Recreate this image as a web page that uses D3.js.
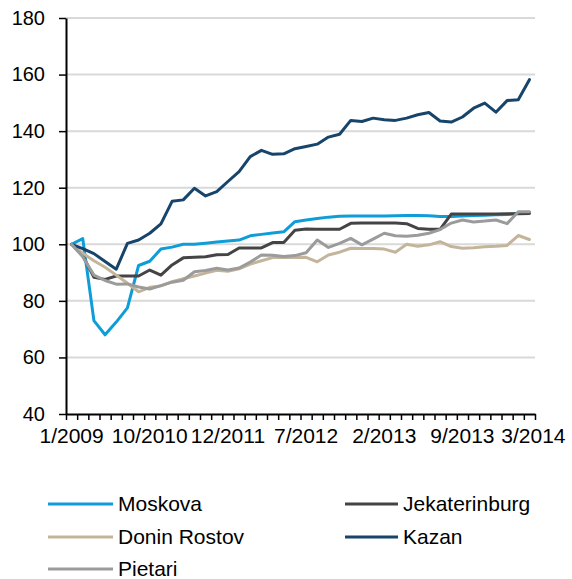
<!DOCTYPE html>
<html>
<head>
<meta charset="utf-8">
<title>Asuntojen hintaindeksi</title>
<script src="https://d3js.org/d3.v7.min.js"></script>
<style>
  body { margin: 0; background: #fff; }
  text { font-family: "Liberation Sans", Arial, sans-serif; fill: #000; }
</style>
</head>
<body>
<div id="chart"></div>
<script>
// categories: quarterly 2009-2010, bimonthly 2011, monthly from 2012
var categories = ["1/2009","4/2009","7/2009","10/2009","1/2010","4/2010","7/2010",
  "10/2010","12/2010","2/2011","4/2011","6/2011","8/2011","10/2011",
  "12/2011","1/2012","2/2012","3/2012","4/2012","5/2012","6/2012",
  "7/2012","8/2012","9/2012","10/2012","11/2012","12/2012","1/2013",
  "2/2013","3/2013","4/2013","5/2013","6/2013","7/2013","8/2013",
  "9/2013","10/2013","11/2013","12/2013","1/2014","2/2014","3/2014"];
var shownLabels = ["1/2009","10/2010","12/2011","7/2012","2/2013","9/2013","3/2014"];
var yTicks = [40, 60, 80, 100, 120, 140, 160, 180];

var moskova = [100,102,73,68,72.5,77.5,92.5,94,98.3,99,100,100,100.4,100.8,101.2,101.5,103,103.5,104,104.4,108,108.6,
  109.1,109.6,109.9,110,110,110,110,110.1,110.2,110.2,110.1,109.8,109.8,110,110.2,110.3,110.4,110.5,111,111.2];
var jekaterinburg = [100,96,88.3,87.6,88.8,88.8,88.8,90.9,89.1,92.7,95.2,95.4,95.6,96.3,96.4,98.7,98.7,98.7,100.6,100.6,105,105.4,
  105.3,105.3,105.3,107.4,107.5,107.5,107.5,107.5,107.3,105.6,105.3,105.3,110.7,110.7,110.7,110.7,110.7,110.8,110.8,110.9];
var doninRostov = [100,96.8,94.2,91.9,89.1,86.2,83.2,84.8,85.3,86.8,87.8,88.8,89.8,90.8,90.5,91.3,93,94.2,95.3,95.3,95.3,95.4,
  93.8,96.2,97.2,98.6,98.5,98.5,98.3,97.2,100,99.3,99.8,100.9,99.2,98.6,98.8,99.1,99.3,99.6,103.1,101.7];
var kazan = [100,98.5,96.7,93.9,91.2,100.3,101.5,103.9,107.2,115.2,115.7,119.8,117.1,118.6,122.2,125.7,131,133.2,131.8,132,133.8,134.6,
  135.4,137.9,138.9,143.8,143.4,144.6,144,143.8,144.6,145.8,146.6,143.6,143.2,145,148.1,149.9,146.7,150.8,151.1,158.2];
var pietari = [100,95.6,89.1,87.2,85.9,86,84.9,84.2,85.4,86.6,87.3,90.3,90.7,91.5,90.9,91.6,93.7,96.2,96.1,95.7,96,97,
  101.5,98.9,100.3,102.1,99.8,101.8,103.9,103,102.8,103.2,103.9,105.2,107.5,108.6,107.9,108.2,108.6,107.3,111.5,111.5];

var seriesNames = ["Moskova", "Jekaterinburg", "Donin Rostov", "Kazan", "Pietari"];
var seriesValues = [moskova, jekaterinburg, doninRostov, kazan, pietari];
var seriesColors = ["#0f9dd8", "#444446", "#c4b49a", "#17446b", "#9b9b9b"];

var width = 572, height = 579;
var margin = { top: 18, right: 37, bottom: 165, left: 66 };

var svg = d3.select("#chart").append("svg")
    .attr("width", width)
    .attr("height", height);

var x = d3.scaleBand()
    .domain(d3.range(categories.length))
    .range([margin.left, width - margin.right]);
var xEdge = d3.scaleLinear()
    .domain([0, categories.length])
    .range([margin.left, width - margin.right]);
var y = d3.scaleLinear()
    .domain([40, 180])
    .range([height - margin.bottom, margin.top]);

// gridlines
svg.append("g")
    .selectAll("line")
    .data(yTicks.slice(1))
    .join("line")
    .attr("x1", margin.left)
    .attr("x2", width - margin.right)
    .attr("y1", d => y(d))
    .attr("y2", d => y(d))
    .attr("stroke", "#d9d9d9")
    .attr("stroke-width", 2);

// y axis
var yAxis = svg.append("g")
    .attr("transform", `translate(${margin.left},0)`)
    .call(d3.axisLeft(y).tickValues(yTicks).tickSize(7).tickSizeOuter(0).tickPadding(14));
yAxis.select(".domain").attr("stroke", "#000").attr("stroke-width", 2);
yAxis.selectAll(".tick line").attr("stroke", "#000").attr("stroke-width", 1.5);
yAxis.selectAll("text").style("font-size", "20px").attr("font-family", null);

// lines
var line = d3.line()
    .x((d, i) => x(i) + x.bandwidth() / 2)
    .y(d => y(d));

svg.append("g")
    .selectAll("path")
    .data(seriesValues)
    .join("path")
    .attr("d", d => line(d))
    .attr("fill", "none")
    .attr("stroke", (d, i) => seriesColors[i])
    .attr("stroke-width", 3)
    .attr("stroke-linejoin", "round")
    .attr("stroke-linecap", "round");

// x axis: ticks between categories
var xAxis = svg.append("g")
    .attr("transform", `translate(0,${y(40)})`)
    .call(d3.axisBottom(xEdge).tickValues(d3.range(categories.length + 1)).tickFormat("").tickSize(6).tickSizeOuter(0));
xAxis.select(".domain").attr("stroke", "#000").attr("stroke-width", 2);
xAxis.selectAll(".tick line").attr("stroke", "#000").attr("stroke-width", 1.5);

// x labels
var labelAxis = svg.append("g")
    .attr("transform", `translate(0,${y(40)})`)
    .call(d3.axisBottom(x)
      .tickValues(categories.map((c, i) => i).filter(i => shownLabels.includes(categories[i])))
      .tickFormat(i => categories[i])
      .tickSize(0).tickPadding(14));
labelAxis.select(".domain").remove();
labelAxis.selectAll("text").style("font-size", "21px").attr("font-family", null)
    .attr("dx", i => i === categories.length - 1 ? 4 : 0);

// legend
var legendPos = [[48, 504], [345, 504], [48, 537], [345, 537], [48, 569]];
var legendLen = [65, 53, 65, 53, 65];
var legend = svg.append("g")
    .selectAll("g")
    .data(seriesNames)
    .join("g")
    .attr("transform", (d, i) => `translate(${legendPos[i][0]},${legendPos[i][1]})`);
legend.append("line")
    .attr("x1", 0).attr("x2", (d, i) => legendLen[i])
    .attr("y1", 0).attr("y2", 0)
    .attr("stroke", (d, i) => seriesColors[i])
    .attr("stroke-width", 3);
legend.append("text")
    .attr("x", (d, i) => legendLen[i] + 5)
    .attr("dy", "0.35em")
    .style("font-size", "21px")
    .text(d => d);
</script>
</body>
</html>
